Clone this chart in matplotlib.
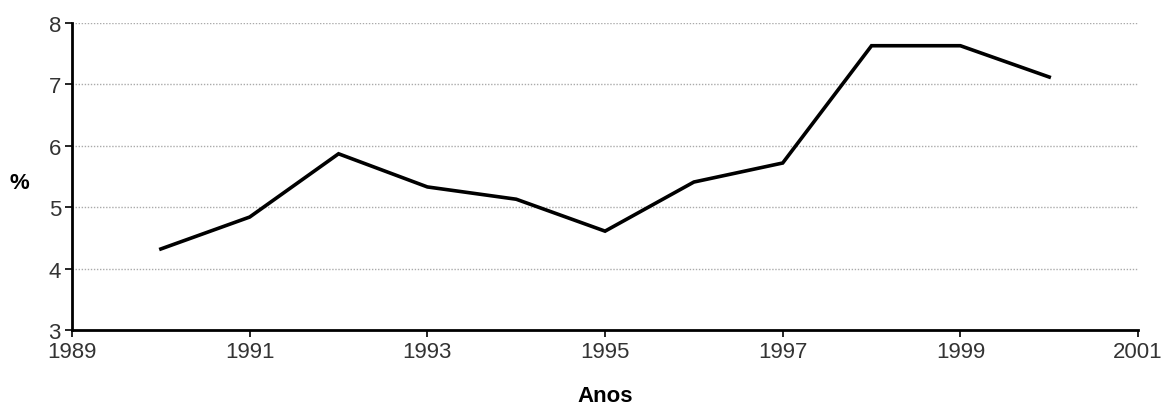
import matplotlib
matplotlib.use("Agg")
import matplotlib.pyplot as plt

years = [1990, 1991, 1992, 1993, 1994, 1995, 1996, 1997, 1998, 1999, 2000]
values = [4.32, 4.84, 5.87, 5.33, 5.13, 4.61, 5.41, 5.72, 7.63, 7.63, 7.12]
xticks = [1989, 1991, 1993, 1995, 1997, 1999, 2001]
yticks = [3, 4, 5, 6, 7, 8]

plt.rcParams['font.family'] = ['Liberation Sans Narrow', 'Liberation Sans', 'DejaVu Sans']

fig = plt.figure(figsize=(11.64, 4.14), dpi=100)
ax = fig.add_axes([0.0619, 0.2005, 0.9158, 0.7415])
ax.plot(years, values, color='black', lw=2.6, solid_joinstyle='miter')
ax.set_xlim(1989, 2001)
ax.set_ylim(3, 8)
ax.set_xticks(xticks)
ax.set_yticks(yticks)
ax.tick_params(axis='both', labelsize=16, color='black', length=5, width=1.2,
               labelcolor='#333333', pad=3)
for y in yticks[1:]:
    ax.axhline(y, color='#aaaaaa', lw=1.0, ls=(0, (1, 1.2)), zorder=0)
ax.spines['top'].set_visible(False)
ax.spines['right'].set_visible(False)
ax.spines['left'].set_linewidth(2.0)
ax.spines['bottom'].set_linewidth(2.0)
ax.set_xlabel('Anos', fontsize=16, fontweight='bold')
ax.set_ylabel('%', fontsize=16, fontweight='bold', rotation=0, va='center', ha='center')
ax.xaxis.set_label_coords(0.5, -0.18)
ax.yaxis.set_label_coords(-0.049, 0.482)
fig.savefig('out.png', dpi=100)
